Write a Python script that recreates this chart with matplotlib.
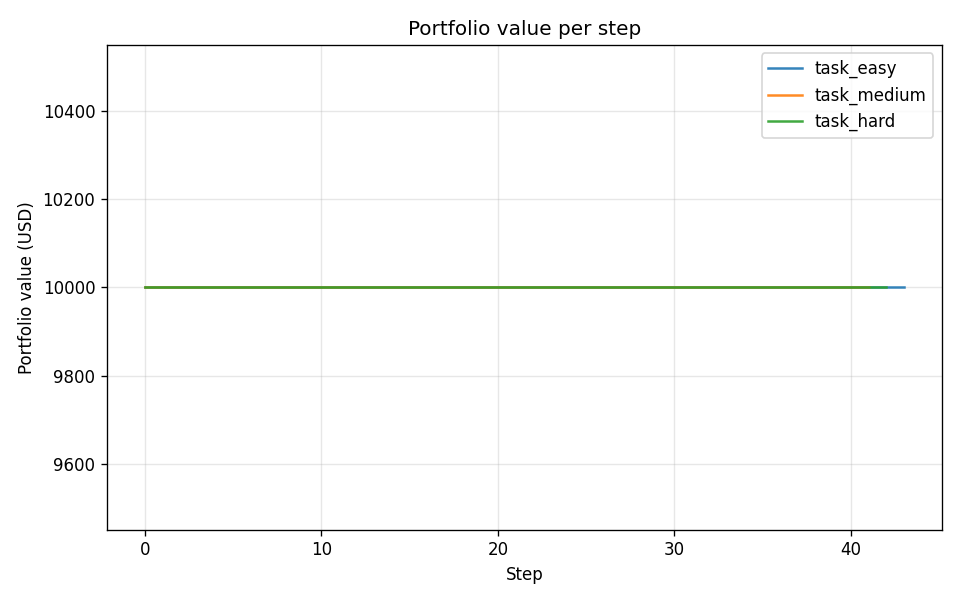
import matplotlib
matplotlib.use("Agg")
import matplotlib.pyplot as plt

# portfolio value per step (flat at 10000)
easy_values = [
    10000, 10000, 10000, 10000, 10000, 10000, 10000, 10000, 10000, 10000,
    10000, 10000, 10000, 10000, 10000, 10000, 10000, 10000, 10000, 10000,
    10000, 10000, 10000, 10000, 10000, 10000, 10000, 10000, 10000, 10000,
    10000, 10000, 10000, 10000, 10000, 10000, 10000, 10000, 10000, 10000,
    10000, 10000, 10000, 10000,
]  # steps 0..43
medium_values = [
    10000, 10000, 10000, 10000, 10000, 10000, 10000, 10000, 10000, 10000,
    10000, 10000, 10000, 10000, 10000, 10000, 10000, 10000, 10000, 10000,
    10000, 10000, 10000, 10000, 10000, 10000, 10000, 10000, 10000, 10000,
    10000, 10000, 10000, 10000, 10000, 10000, 10000, 10000, 10000, 10000,
    10000, 10000,
]  # steps 0..41
hard_values = [
    10000, 10000, 10000, 10000, 10000, 10000, 10000, 10000, 10000, 10000,
    10000, 10000, 10000, 10000, 10000, 10000, 10000, 10000, 10000, 10000,
    10000, 10000, 10000, 10000, 10000, 10000, 10000, 10000, 10000, 10000,
    10000, 10000, 10000, 10000, 10000, 10000, 10000, 10000, 10000, 10000,
    10000, 10000, 10000,
]  # steps 0..42

series = [
    ("task_easy", easy_values),
    ("task_medium", medium_values),
    ("task_hard", hard_values),
]

fig, ax = plt.subplots(figsize=(8, 5), dpi=120)

for name, vals in series:
    ax.plot(range(len(vals)), vals, label=name, linewidth=1.5, alpha=0.9)

ax.set_title("Portfolio value per step")
ax.set_xlabel("Step")
ax.set_ylabel("Portfolio value (USD)")
ax.grid(True, alpha=0.3)
ax.legend(loc="upper right")

fig.subplots_adjust(left=0.1115, right=0.981, top=0.925, bottom=0.117)
fig.savefig("out.png", dpi=120)
